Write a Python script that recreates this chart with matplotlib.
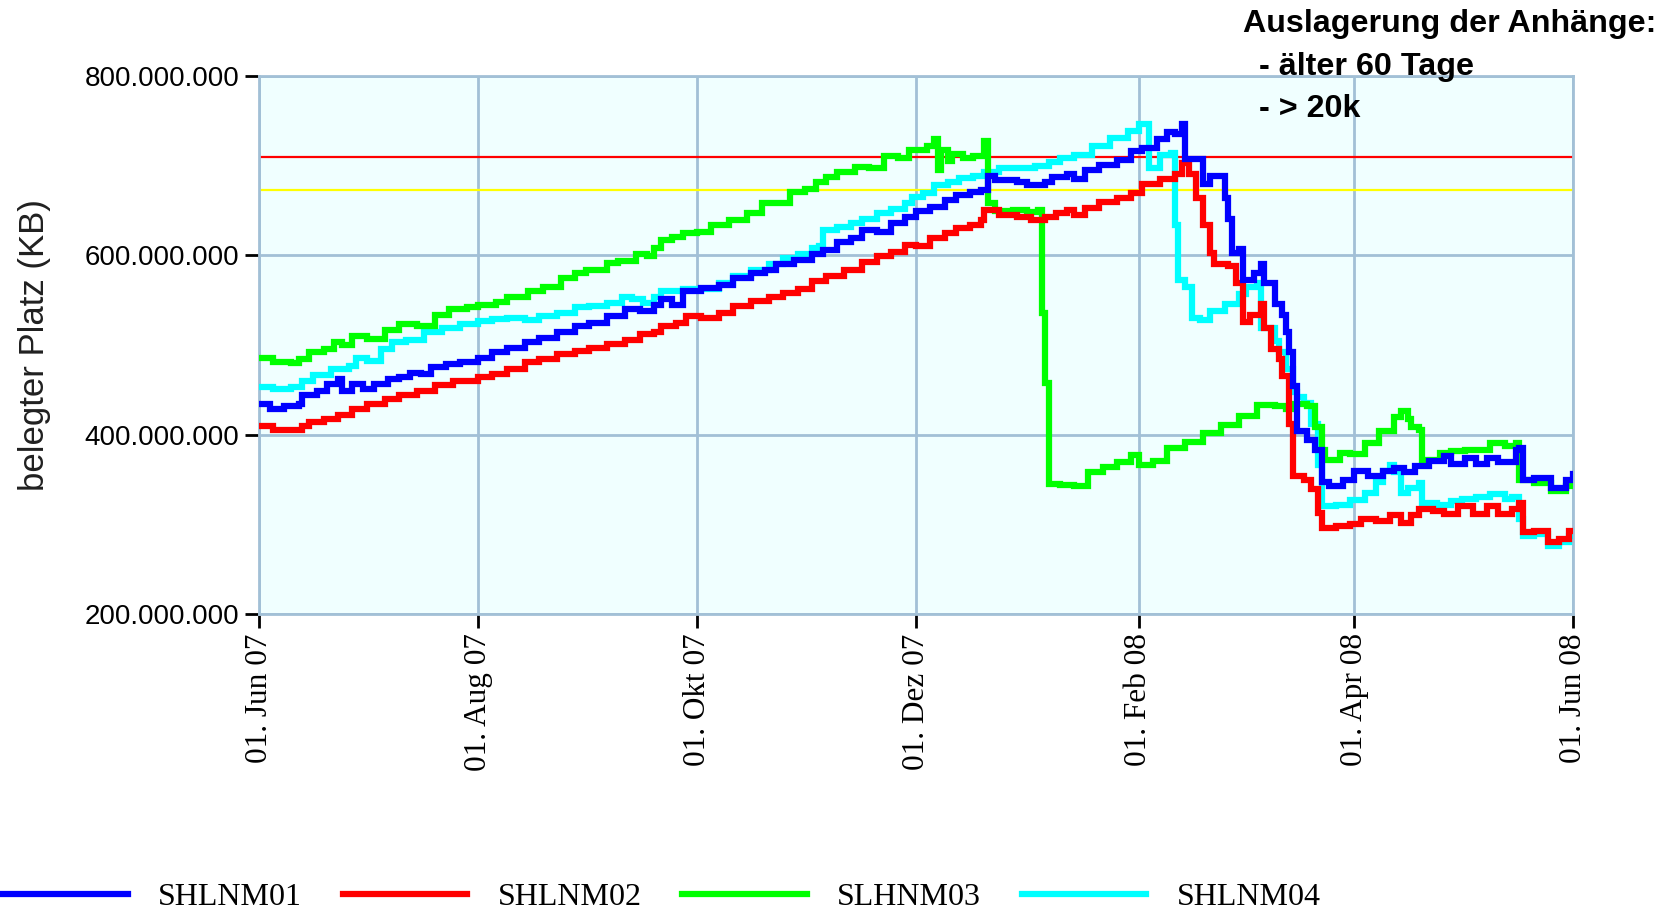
import numpy as np
import pandas as pd
import matplotlib
matplotlib.use('Agg')
import matplotlib.pyplot as plt
from matplotlib.ticker import FuncFormatter

# days since 01.06.2007 and used space in million KB
shlnm01_days = [0, 3, 7, 11, 12, 16, 19, 22, 23, 26, 29, 32, 36, 39, 42, 45, 48, 52, 56, 61,
                65, 69, 74, 78, 83, 88, 92, 97, 102, 106, 110, 112, 115, 118, 123, 128, 132, 137,
                141, 144, 149, 154, 157, 161, 165, 168, 172, 176, 180, 183, 187, 191, 194, 198,
                201, 203, 205, 211, 214, 219, 221, 225, 227, 230, 234, 239, 243, 246, 250, 253,
                255, 257, 258, 263, 265, 269, 270, 271, 273, 274, 277, 279, 280, 283, 285, 286,
                287, 288, 289, 292, 294, 296, 298, 302, 305, 309, 313, 316, 319, 322, 326, 330,
                332, 336, 339, 342, 345, 350, 351, 352, 355, 360, 364, 366]
shlnm01_vals = [434, 429, 432, 434, 444, 449, 456, 462, 449, 456, 451, 456, 462, 464, 469, 468, 475, 479, 481, 486,
                492, 497, 503, 508, 515, 521, 525, 532, 540, 538, 545, 551, 545, 560, 564, 567, 575, 580,
                584, 590, 595, 602, 606, 615, 619, 628, 626, 636, 643, 649, 654, 662, 667, 671,
                673, 689, 684, 682, 678, 682, 687, 691, 685, 695, 701, 706, 716, 720, 730, 737,
                735, 747, 707, 680, 689, 664, 641, 603, 607, 572, 580, 590, 569, 546, 534, 515,
                492, 454, 404, 394, 383, 347, 343, 350, 359, 354, 359, 363, 358, 365, 371, 376,
                367, 374, 367, 374, 369, 383, 385, 350, 352, 341, 350, 356]

shlnm02_days = [0, 4, 9, 12, 14, 18, 22, 26, 30, 35, 39, 44, 49, 54, 61, 65, 69, 74, 78, 83,
                88, 92, 97, 102, 106, 110, 112, 116, 119, 123, 128, 132, 137, 142, 146, 150, 154,
                158, 163, 168, 172, 176, 180, 183, 187, 191, 194, 198, 201, 202, 206, 211, 215,
                219, 222, 225, 227, 230, 234, 239, 243, 246, 251, 255, 257, 259, 261, 263, 265,
                266, 270, 272, 274, 276, 279, 280, 282, 284, 285, 287, 288, 291, 293, 295, 296,
                300, 304, 307, 311, 315, 318, 321, 323, 327, 330, 334, 338, 342, 345, 349, 351,
                352, 355, 359, 362, 365, 366]
shlnm02_vals = [410, 405, 405, 410, 414, 418, 422, 429, 434, 440, 444, 449, 455, 460, 464, 468, 473, 481, 484, 490,
                493, 497, 501, 506, 512, 515, 521, 525, 532, 530, 536, 543, 549, 554, 558, 562, 571,
                577, 584, 593, 599, 604, 612, 610, 619, 625, 630, 634, 639, 650, 645, 643, 639,
                643, 647, 650, 645, 653, 659, 664, 670, 680, 685, 691, 703, 691, 664, 634, 603,
                590, 588, 569, 526, 534, 546, 519, 496, 484, 465, 412, 354, 350, 339, 313, 296,
                298, 300, 306, 304, 310, 302, 310, 317, 315, 311, 321, 311, 321, 311, 317, 324,
                291, 293, 280, 284, 293, 293]

slhnm03_days = [0, 4, 9, 11, 14, 18, 21, 23, 26, 30, 35, 39, 44, 49, 53, 58, 61, 66, 69, 75,
                79, 84, 88, 91, 97, 100, 105, 108, 110, 112, 115, 118, 122, 126, 131, 136, 140,
                144, 148, 152, 155, 158, 161, 166, 170, 174, 178, 181, 184, 186, 188, 189, 190,
                192, 193, 196, 199, 202, 203, 205, 210, 214, 217, 218, 219, 220, 223, 227, 231,
                235, 239, 243, 245, 249, 253, 258, 263, 268, 273, 278, 283, 286, 288, 292, 294,
                296, 297, 301, 304, 308, 312, 316, 318, 320, 321, 323, 324, 329, 332, 336, 340,
                343, 347, 350, 351, 355, 360, 364, 366]
slhnm03_vals = [486, 481, 480, 484, 492, 496, 503, 500, 510, 507, 517, 523, 521, 534, 540, 542, 545, 548, 554, 560,
                565, 575, 580, 584, 591, 594, 602, 599, 608, 617, 620, 625, 626, 634, 639, 647, 658,
                658, 671, 674, 682, 687, 693, 698, 697, 711, 708, 717, 718, 722, 730, 695, 718,
                705, 713, 709, 711, 728, 658, 649, 650, 648, 650, 536, 458, 345, 344, 343, 358,
                364, 369, 377, 366, 371, 385, 392, 402, 411, 421, 433, 432, 429, 434, 432, 409,
                383, 372, 380, 378, 391, 404, 420, 426, 418, 409, 405, 372, 380, 382, 383, 383,
                391, 387, 391, 350, 346, 337, 343, 348]

shlnm04_days = [0, 4, 9, 12, 15, 20, 25, 27, 30, 34, 37, 41, 46, 51, 56, 61, 65, 69, 74, 78,
                83, 88, 92, 97, 101, 104, 107, 110, 112, 118, 123, 128, 132, 137, 142, 146, 150,
                154, 156, 157, 161, 165, 168, 172, 176, 180, 182, 185, 188, 192, 195, 199, 202,
                206, 211, 216, 220, 223, 227, 232, 237, 242, 245, 248, 251, 254, 255, 256, 258,
                260, 262, 265, 269, 273, 275, 278, 279, 281, 283, 284, 286, 288, 289, 291, 293,
                295, 296, 300, 304, 308, 311, 313, 315, 316, 318, 320, 323, 324, 328, 332, 335,
                339, 343, 347, 349, 351, 352, 355, 359, 362, 365, 366]
shlnm04_vals = [453, 451, 453, 460, 466, 473, 477, 486, 482, 495, 503, 506, 514, 519, 523, 527, 529, 530, 528, 532,
                536, 542, 543, 547, 554, 551, 547, 554, 560, 562, 563, 569, 577, 584, 590, 597, 602,
                608, 610, 628, 632, 636, 641, 647, 652, 658, 665, 669, 678, 682, 686, 689, 693,
                697, 697, 700, 704, 709, 712, 722, 731, 739, 747, 697, 712, 714, 634, 572, 565,
                530, 528, 538, 546, 557, 565, 569, 519, 519, 504, 492, 473, 448, 442, 435, 412,
                366, 320, 322, 327, 335, 347, 360, 366, 358, 335, 340, 346, 324, 322, 326, 328,
                331, 334, 328, 330, 306, 287, 289, 276, 280, 287, 289]

series_names = ['SHLNM01', 'SHLNM02', 'SLHNM03', 'SHLNM04']
series_colors = ['#0000ff', '#ff0000', '#00ff00', '#00ffff']

# limits drawn across the chart (million KB)
red_limit = 710
yellow_limit = 673

start = pd.Timestamp('2007-06-01')
tick_dates = ['2007-06-01', '2007-08-01', '2007-10-01', '2007-12-01',
              '2008-02-01', '2008-04-01', '2008-06-01']
tick_labels = ['01. Jun 07', '01. Aug 07', '01. Okt 07', '01. Dez 07',
               '01. Feb 08', '01. Apr 08', '01. Jun 08']
y_ticks = [200, 400, 600, 800]

title_lines = ['Auslagerung der Anhänge:', '- älter 60 Tage', '- > 20k']


def to_dates(days):
    return (start + pd.to_timedelta(np.array(days, dtype=float), unit='D')).to_pydatetime()


fig = plt.figure(figsize=(16.66, 9.11), dpi=100)
ax = fig.add_axes([0.1555, 0.326, 0.7887, 0.5906])
ax.set_facecolor('#f0ffff')

grid_col = '#a2c0d6'
for s in ax.spines.values():
    s.set_color(grid_col)
    s.set_linewidth(2)
ax.grid(True, color=grid_col, linewidth=2)
ax.set_axisbelow(True)

ax.axhline(red_limit * 1e6, color='#ff0000', linewidth=1.6, zorder=2)
ax.axhline(yellow_limit * 1e6, color='#ffff00', linewidth=1.6, zorder=2)

all_days = [shlnm01_days, shlnm02_days, slhnm03_days, shlnm04_days]
all_vals = [shlnm01_vals, shlnm02_vals, slhnm03_vals, shlnm04_vals]
handles = [None] * 4
# blue drawn last so it sits on top
for i in [3, 2, 1, 0]:
    ln, = ax.plot(to_dates(all_days[i]), np.array(all_vals[i]) * 1e6,
                  drawstyle='steps-post', color=series_colors[i],
                  linewidth=4.5, solid_joinstyle='miter', zorder=3 + (3 - i))
    handles[i] = ln

ax.set_xlim(pd.Timestamp('2007-06-01').to_pydatetime(), pd.Timestamp('2008-06-01').to_pydatetime())
ax.set_ylim(200e6, 800e6)

ax.set_xticks(pd.to_datetime(tick_dates).to_pydatetime())
ax.set_xticklabels(tick_labels, rotation=90, family='Liberation Serif', fontsize=22.5)
ax.set_yticks([v * 1e6 for v in y_ticks])
ax.yaxis.set_major_formatter(FuncFormatter(lambda v, p: '{:,}'.format(int(round(v))).replace(',', '.')))
for lab in ax.get_yticklabels():
    lab.set_family('Liberation Sans')
    lab.set_fontsize(20)
ax.tick_params(axis='both', direction='out', length=10, width=2, color='black', pad=4)

ax.set_ylabel('belegter Platz (KB)', family='Liberation Sans', fontsize=25, color='#202020')
ax.yaxis.set_label_coords(-0.158, 0.5)

# note in the top right corner
fig.text(0.746, 0.9735, title_lines[0], family='Liberation Sans', fontweight='bold',
         fontsize=23.2, va='center', ha='left')
fig.text(0.7557, 0.9265, title_lines[1], family='Liberation Sans', fontweight='bold',
         fontsize=23.2, va='center', ha='left')
fig.text(0.7557, 0.8805, title_lines[2], family='Liberation Sans', fontweight='bold',
         fontsize=23.2, va='center', ha='left', zorder=10)

leg = fig.legend(handles, series_names, loc='center left', bbox_to_anchor=(-0.0077, 0.015),
                 ncol=4, frameon=False, borderpad=0, handlelength=3.9, handletextpad=0.95,
                 columnspacing=1.27, prop={'family': 'Liberation Serif', 'size': 23})
for l in leg.get_lines():
    l.set_linewidth(4.5)

fig.savefig('out.png', dpi=100)
